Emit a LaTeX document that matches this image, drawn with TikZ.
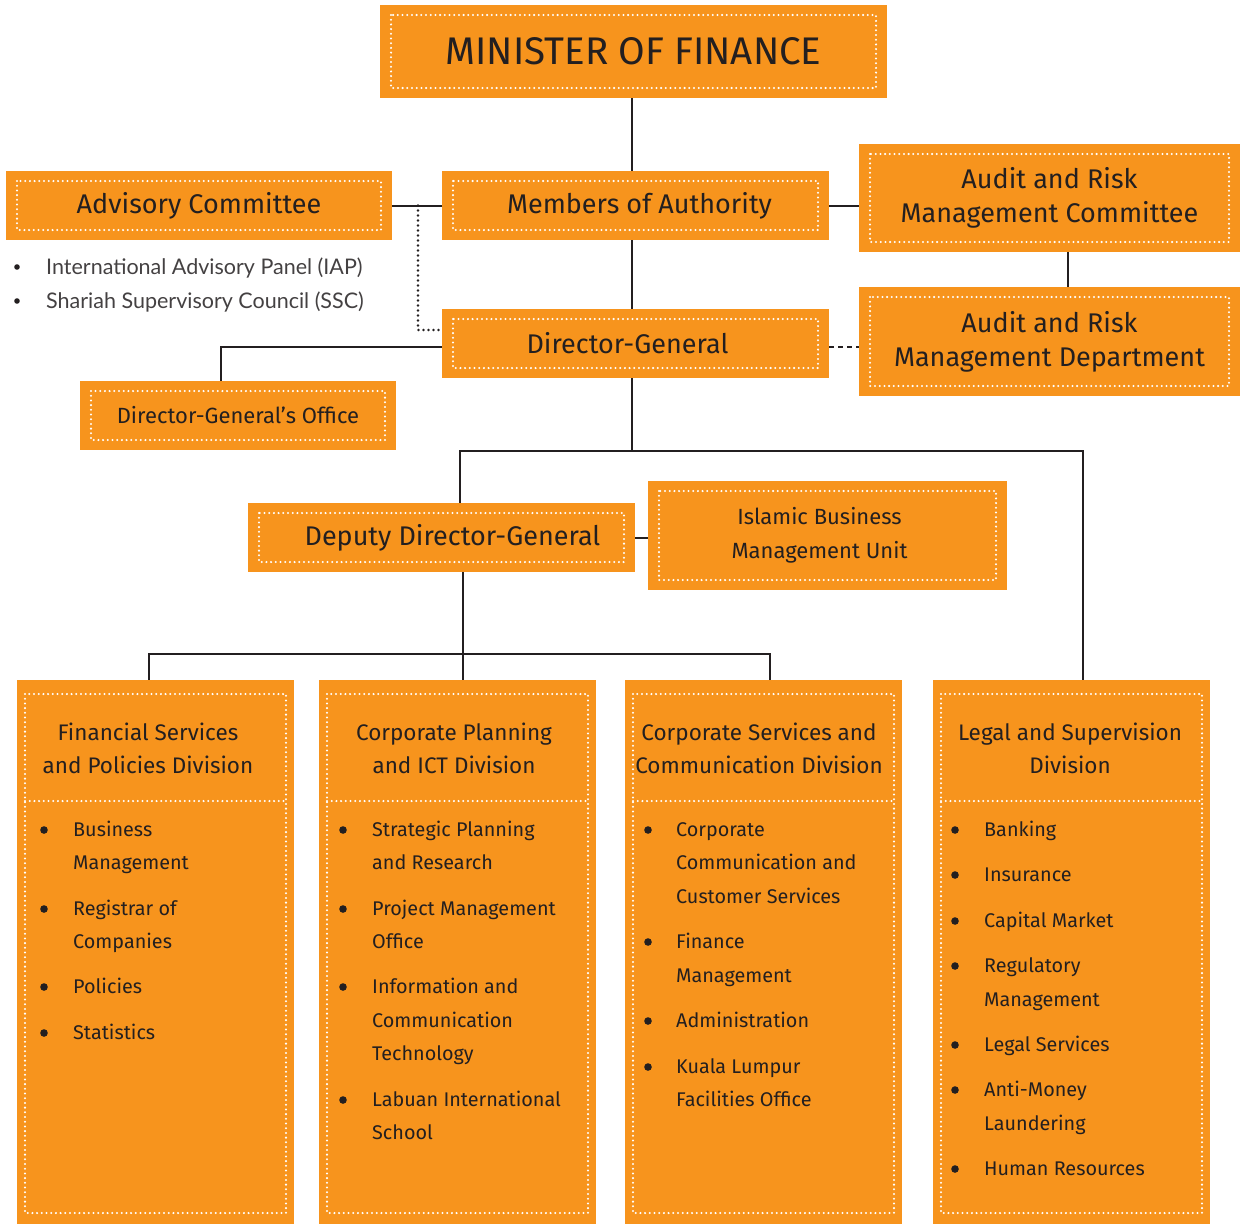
\documentclass[tikz,border=0pt]{standalone}
\usepackage{fontspec}
\setmainfont{Fira Sans}
\newfontfamily\gillf{Lato}
\definecolor{org}{HTML}{F7941D}
\definecolor{ink}{HTML}{231F20}
\newcommand\fsz[2]{\fontsize{#1}{#2}\selectfont}
\begin{document}
\begin{tikzpicture}[x=1pt,y=-1pt,
  dotline/.style={white, line width=2.3, dash pattern=on 0pt off 4.7pt, line cap=round},
  ob/.style={fill=org, draw=none, inner sep=0pt, text=ink, align=center,
    path picture={\draw[dotline] ([shift={(11,10)}]path picture bounding box.north west) rectangle ([shift={(-11,-10)}]path picture bounding box.south east);}},
  dbox/.style={fill=org, draw=none, inner sep=0pt, minimum width=277, minimum height=544,
    path picture={\draw[dotline] ([shift={(8,14)}]path picture bounding box.north west) rectangle ([shift={(-8,-11)}]path picture bounding box.south east);
      \draw[dotline] ([shift={(8,121)}]path picture bounding box.north west) -- ([shift={(-8,121)}]path picture bounding box.north east);}},
  conn/.style={draw=ink, line width=2},
  hd/.style={text=ink, align=center, inner sep=0pt, font=\fsz{22.5}{33}},
  it/.style={text=ink, inner sep=0pt, anchor=base west, font=\fsz{19.8}{33.5}},
  bul/.style={fill=ink}
]
\useasboundingbox (0,0) rectangle (1240,1224);

% top boxes
\node[ob, minimum width=507, minimum height=93, font=\fsz{38.5}{40}] (min) at (633.5,51.5) {MINISTER OF FINANCE};
\node[ob, minimum width=386, minimum height=69, font=\fsz{27}{34}] (adv) at (199,205.5) {Advisory Committee};
\node[ob, minimum width=387, minimum height=69, font=\fsz{27}{34}] (moa) at (635.5,205.5) {\hspace*{8pt}Members of Authority};
\node[ob, minimum width=381, minimum height=108, font=\fsz{27}{34}] (arc) at (1049.5,198) {Audit and Risk\\Management Committee};
\node[ob, minimum width=381, minimum height=109, font=\fsz{27}{34}] (ard) at (1049.5,341.5) {Audit and Risk\\Management Department};
\node[ob, minimum width=387, minimum height=69, font=\fsz{27}{34}] (dg) at (635.5,343.5) {\hspace*{-16pt}Director-General};
\node[ob, minimum width=316, minimum height=69, font=\fsz{22}{34}] (dgo) at (238,415.5) {Director-General’s Office};
\node[ob, minimum width=387, minimum height=69, font=\fsz{27}{34}] (ddg) at (441.5,537.5) {\hspace*{22pt}Deputy Director-General};
\node[ob, minimum width=359, minimum height=109, font=\fsz{22}{34}] (isl) at (827.5,535.5) {\hspace*{-16pt}Islamic Business\\\hspace*{-16pt}Management Unit};

% advisory sub list
\node[text=ink!85, inner sep=0pt, anchor=base west, font=\gillf\fsz{21.5}{34}] (iap) at (46,274) {International Advisory Panel (IAP)};
\node[text=ink!85, inner sep=0pt, anchor=base west, font=\gillf\fsz{21.5}{34}] (ssc) at (46,308) {Shariah Supervisory Council (SSC)};
\fill[ink] (17,267) circle (2.8);
\fill[ink] (17,301) circle (2.8);

% division boxes
\node[dbox] (d1) at (155.5,952) {};
\node[dbox] (d2) at (457.5,952) {};
\node[dbox] (d3) at (763.5,952) {};
\node[dbox] (d4) at (1071.5,952) {};

\node[hd] (h1) at (148,748.5) {Financial Services\\and Policies Division};
\node[hd] (h2) at (454,748.5) {Corporate Planning\\and ICT Division};
\node[hd] (h3) at (759,748.5) {Corporate Services and\\Communication Division};
\node[hd] (h4) at (1070,748.5) {Legal and Supervision\\Division};

% items box 1
\foreach \t/\y [count=\i] in {Business/830, Management/863, Registrar of/909, Companies/942, Policies/987, Statistics/1033}
  \node[it] (a\i) at (73,\y+6) {\t};
\foreach \y in {830,909,987,1033} \fill[bul] (44,\y) circle (3.8);
% items box 2
\foreach \t/\y [count=\i] in {Strategic Planning/830, and Research/863, Project Management/909, Office/942, Information and/987, Communication/1021, Technology/1054, Labuan International/1100, School/1133}
  \node[it] (b\i) at (372,\y+6) {\t};
\foreach \y in {830,909,987,1100} \fill[bul] (343,\y) circle (3.8);
% items box 3
\foreach \t/\y [count=\i] in {Corporate/830, Communication and/863, Customer Services/897, Finance/942, Management/976, Administration/1021, Kuala Lumpur/1067, Facilities Office/1100}
  \node[it] (c\i) at (676,\y+6) {\t};
\foreach \y in {830,942,1021,1067} \fill[bul] (648,\y) circle (3.8);
% items box 4
\foreach \t/\y [count=\i] in {Banking/830, Insurance/875, Capital Market/921, Regulatory/966, Management/1000, Legal Services/1045, Anti-Money/1090, Laundering/1124, Human Resources/1169}
  \node[it] (e\i) at (984,\y+6) {\t};
\foreach \y in {830,875,921,966,1045,1090,1169} \fill[bul] (955,\y) circle (3.8);

% junction coordinates
\coordinate (j1) at (632,451);
\coordinate (j2) at (463,654);
\coordinate (dotA) at (418,205.5);
\coordinate (dotB) at (418,330);

% connectors
\draw[conn] ([xshift=-1.5]min.south) -- ([xshift=-3.5]moa.north);
\draw[conn] ([xshift=-3.5]moa.south) -- ([xshift=-3.5]dg.north);
\draw[conn] (adv.east) -- (moa.west);
\draw[conn] (moa.east) -- (moa.east -| arc.west);
\draw[conn] ([xshift=18.5]arc.south) -- ([xshift=18.5]ard.north);
\draw[ink, line width=1.5, dash pattern=on 5pt off 4pt] ([yshift=-3.5]dg.east) -- ([yshift=-3.5]dg.east -| ard.west);
\draw[ink, line width=2.6, dash pattern=on 0pt off 5pt, line cap=round] (dotA) -- (dotB) -- (dotB -| dg.west);
\draw[conn] ([yshift=-3.5]dg.west) -| ([xshift=-17]dgo.north);
\draw[conn] ([xshift=-3.5]dg.south) -- (j1);
\draw[conn] ([xshift=18.5]ddg.north) |- (j1) -| ([xshift=11.5]d4.north);
\draw[conn] (ddg.east) -- (ddg.east -| isl.west);
\draw[conn] ([xshift=21.5]ddg.south) -- (j2);
\draw[conn] ([xshift=-6.5]d1.north) |- (j2) -| ([xshift=6.5]d3.north);
\draw[conn] (j2) -- ([xshift=5.5]d2.north);
\end{tikzpicture}
\end{document}
